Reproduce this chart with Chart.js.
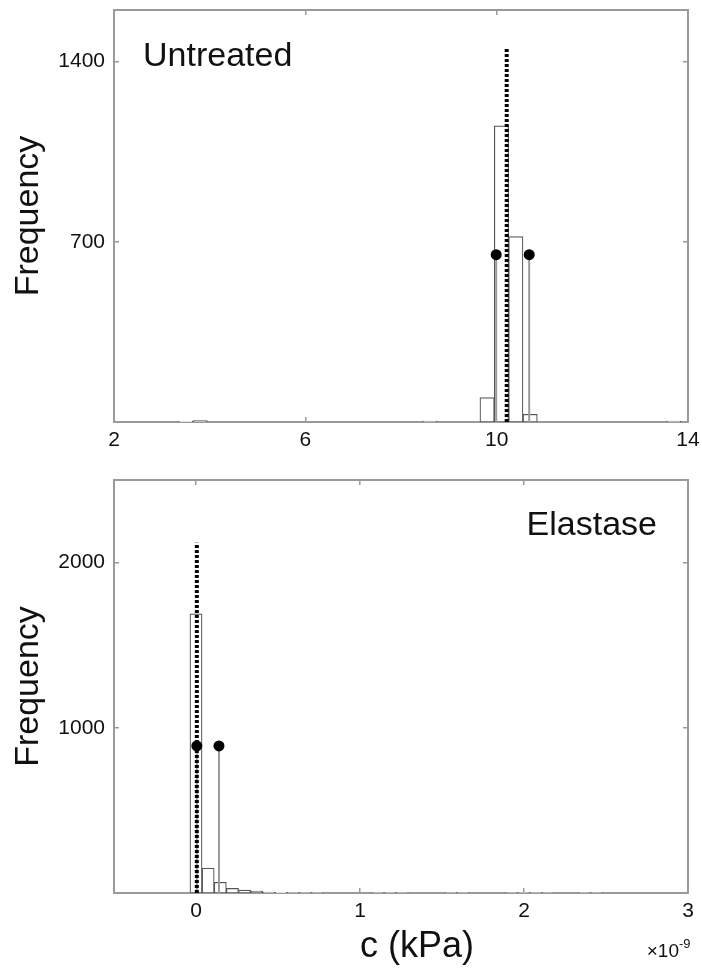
<!DOCTYPE html>
<html>
<head>
<meta charset="utf-8">
<script src="https://cdn.jsdelivr.net/npm/chart.js@4.4.0/dist/chart.umd.min.js"></script>
<style>
  html, body { margin: 0; padding: 0; background: #fff; }
  #wrap { position: relative; width: 702px; height: 970px; }
  .panel { position: absolute; left: 0; width: 702px; }
</style>
</head>
<body>
<div id="wrap">
  <div class="panel" style="top:0;height:470px"><canvas id="untreated"></canvas></div>
  <div class="panel" style="top:470px;height:500px"><canvas id="elastase"></canvas></div>
</div>
<script>
// Untreated: histogram of c (kPa)
var untreatedBins   = [3.5, 3.8, 8.6, 9.8, 10.1, 10.4, 10.7, 13.7];
var untreatedCounts = [3, 6, 4, 95, 1150, 720, 30, 4];
var untreatedMean   = [10.21, 1450];          // x, height of dotted line
var untreatedCI     = [9.99, 10.68];
var untreatedCIHeight = 650;
var untreatedXTicks = [2, 6, 10, 14];
var untreatedYTicks = [700, 1400];

// Elastase: histogram of c (x1e-9 kPa)
var elastaseBins   = [0, 0.074, 0.148, 0.222, 0.296, 0.37, 0.444, 0.518, 0.592, 0.666, 0.74,
                      1.11, 1.184, 1.258, 1.554, 1.628, 1.924, 1.998, 2.072, 2.146, 2.368, 2.442];
var elastaseCounts = [1690, 150, 65, 28, 18, 12, 6, 4, 3, 3, 2,
                      2, 2, 2, 2, 2, 2, 2, 2, 2, 2, 2];
var elastaseMean   = [0.005, 2120];
var elastaseCI     = [0.005, 0.14];
var elastaseCIHeight = 890;
var elastaseXTicks = [0, 1, 2, 3];
var elastaseYTicks = [1000, 2000];

Chart.defaults.font.family = "'Liberation Sans', Arial, sans-serif";
Chart.defaults.color = '#111';

// free text inside / around the plot box
var panelText = {
  id: 'panelText',
  afterDraw: function(chart, args, opts) {
    var ctx = chart.ctx, a = chart.chartArea;
    ctx.save();
    ctx.fillStyle = '#111';
    ctx.textBaseline = 'alphabetic';
    var lastRight = null;
    (opts.items || []).forEach(function(it) {
      ctx.font = it.size + "px 'Liberation Sans', Arial, sans-serif";
      var x = it.follow && lastRight !== null ? lastRight : (it.ref === 'right' ? a.right : a.left) + it.dx;
      var y = (it.vref === 'bottom' ? a.bottom : a.top) + it.dy;
      ctx.textAlign = it.follow ? 'left' : it.align;
      ctx.fillText(it.text, x, y);
      var w = ctx.measureText(it.text).width;
      lastRight = it.follow ? x + w : (it.align === 'right' ? x : it.align === 'center' ? x + w / 2 : x + w);
    });
    ctx.restore();
  }
};

function boxAxis(pos, min, max, ticks, size, extra) {
  var horizontal = (pos === 'top' || pos === 'bottom');
  var ax = {
    type: 'linear',
    axis: horizontal ? 'x' : 'y',
    position: pos,
    min: min,
    max: max,
    offset: false,
    grid: { display: true, drawOnChartArea: false, drawTicks: true, tickLength: -5,
            color: '#9a9a9a', lineWidth: 1.5, offset: false },
    border: { display: true, color: '#9a9a9a', width: 2 },
    ticks: { display: false },
    afterBuildTicks: function(s) { s.ticks = ticks.map(function(v) { return { value: v }; }); },
    afterFit: function(s) {
      if (horizontal) s.height = size; else s.width = size;
      // keep the plot box fixed: no extra room for overhanging labels
      s.paddingTop = s.paddingBottom = s.paddingLeft = s.paddingRight = 0;
    }
  };
  for (var k in extra) ax[k] = extra[k];
  return ax;
}

function makePanel(id, p) {
  var bars = p.bins.map(function(b, i) { return { x: b, y: p.counts[i] }; });
  var datasets = [{
    type: 'bar',
    data: bars,
    backgroundColor: '#fff',
    borderColor: '#555',
    borderWidth: 1.2,
    borderSkipped: false,
    barPercentage: 1,
    categoryPercentage: 1,
    order: 4
  }];
  p.ci.forEach(function(c) {
    datasets.push({
      type: 'line',
      data: [{ x: c, y: 0 }, { x: c, y: p.ciHeight }],
      borderColor: '#9a9a9a',
      borderWidth: 2,
      pointRadius: 0,
      fill: false,
      order: 3
    });
  });
  datasets.push({
    type: 'line',
    data: [{ x: p.mean[0], y: 0 }, { x: p.mean[0], y: p.mean[1] }],
    borderColor: '#000',
    borderWidth: 4,
    borderDash: [3, 2],
    borderCapStyle: 'butt',
    pointRadius: 0,
    fill: false,
    order: 2
  });
  datasets.push({
    type: 'line',
    data: p.ci.map(function(c) { return { x: c, y: p.ciHeight }; }),
    showLine: false,
    pointRadius: 5.5,
    pointBackgroundColor: '#000',
    pointBorderWidth: 0,
    order: 1
  });

  var tickFont = { size: 21 };
  var plain = function(v) { return String(v); };
  return new Chart(document.getElementById(id), {
    type: 'bar',
    data: { datasets: datasets },
    options: {
      responsive: true,
      maintainAspectRatio: false,
      animation: false,
      layout: { padding: { top: 10, right: 14, left: 0, bottom: 0 } },
      plugins: {
        legend: { display: false },
        tooltip: { enabled: false },
        panelText: { items: p.text }
      },
      scales: {
        x: boxAxis('bottom', p.xMin, p.xMax, p.xTicks, p.xAxisHeight, {
          ticks: { display: true, padding: 11, font: tickFont, maxRotation: 0, autoSkip: false, callback: plain }
        }),
        x2: boxAxis('top', p.xMin, p.xMax, p.xTicks, 0),
        y: boxAxis('left', 0, p.yMax, p.yTicks, 114, {
          ticks: { display: true, padding: 14, font: tickFont, callback: plain },
          title: { display: true, text: 'Frequency', font: { size: 34 }, padding: { top: 8, bottom: 0 }, color: '#111' }
        }),
        y2: boxAxis('right', 0, p.yMax, p.yTicks, 0)
      }
    },
    plugins: [panelText]
  });
}

makePanel('untreated', {
  bins: untreatedBins, counts: untreatedCounts,
  mean: untreatedMean, ci: untreatedCI, ciHeight: untreatedCIHeight,
  xMin: 2, xMax: 14, yMax: 1600,
  xTicks: untreatedXTicks, yTicks: untreatedYTicks,
  xAxisHeight: 48,
  text: [
    { text: 'Untreated', size: 34, ref: 'left', dx: 29, vref: 'top', dy: 56, align: 'left' }
  ]
});

makePanel('elastase', {
  bins: elastaseBins, counts: elastaseCounts,
  mean: elastaseMean, ci: elastaseCI, ciHeight: elastaseCIHeight,
  xMin: -0.5, xMax: 3, yMax: 2500,
  xTicks: elastaseXTicks, yTicks: elastaseYTicks,
  xAxisHeight: 77,
  text: [
    { text: 'Elastase', size: 34, ref: 'right', dx: -31, vref: 'top', dy: 55, align: 'right' },
    { text: 'c (kPa)', size: 36, ref: 'left', dx: 303, vref: 'bottom', dy: 64, align: 'center' },
    { text: '\u00d710', size: 19, ref: 'right', dx: -9, vref: 'bottom', dy: 64, align: 'right' },
    { text: '-9', size: 13, follow: true, ref: 'right', dx: 0, vref: 'bottom', dy: 55, align: 'left' }
  ]
});
</script>
</body>
</html>
